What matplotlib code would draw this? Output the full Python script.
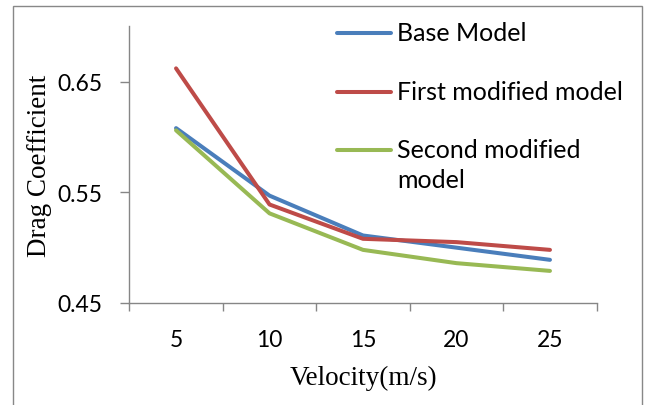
import numpy as np
import matplotlib
matplotlib.use("Agg")
import matplotlib.pyplot as plt
from matplotlib.patches import Rectangle
from matplotlib.lines import Line2D

# data
velocity = ["5", "10", "15", "20", "25"]
base_model = [0.608, 0.547, 0.511, 0.500, 0.489]
first_modified = [0.662, 0.539, 0.508, 0.505, 0.498]
second_modified = [0.606, 0.531, 0.498, 0.486, 0.479]

series = [
    ("Base Model", base_model, "#4A7EBB"),
    ("First modified model", first_modified, "#BE4B48"),
    ("Second modified\nmodel", second_modified, "#98B954"),
]

W, H = 646, 406
fig = plt.figure(figsize=(W / 100, H / 100), dpi=100)
ax = fig.add_axes([129.3 / W, 1 - 304 / H, 467.4 / W, 276.7 / H])

sans = "Lato"
serif = "Liberation Serif"
x = np.arange(len(velocity))
for name, vals, col in series:
    ax.plot(x, vals, color=col, lw=2.9, label=name, solid_capstyle="round")

ax.set_xlim(-0.5, len(velocity) - 0.5)
ax.set_ylim(0.45, 0.70)

# category axis: ticks between the categories, labels at centres
ax.set_xticks(np.arange(-0.5, len(velocity), 1))
ax.set_xticklabels([])
ax.set_xticks(x, minor=True)
ax.set_xticklabels(velocity, minor=True, fontsize=16.5, family=sans)
ax.tick_params(axis="x", which="major", length=6, width=1, color="#868686", direction="out")
ax.tick_params(axis="x", which="minor", length=0, pad=19)

ax.set_yticks([0.45, 0.55, 0.65])
ax.set_yticklabels(["0.45", "0.55", "0.65"], fontsize=16.5, family=sans)
ax.tick_params(axis="y", length=6.5, width=1, color="#868686", direction="out", pad=13)

for s in ["top", "right"]:
    ax.spines[s].set_visible(False)
for s in ["left", "bottom"]:
    ax.spines[s].set_color("#868686")
    ax.spines[s].set_linewidth(1)

ax.set_ylabel("Drag Coefficient", fontsize=19.5, family=serif)
ax.yaxis.set_label_coords(-0.166, 0.5)
ax.set_xlabel("Velocity(m/s)", fontsize=19.5, family=serif)
ax.xaxis.set_label_coords(0.501, -0.27)
ax.xaxis.label.set_va("center")

# legend, handle aligned with the first line of each label (Excel style)
leg_y = [33.5, 92.5, 151]
for (name, vals, col), yy in zip(series, leg_y):
    fy = 1 - yy / H
    fig.add_artist(Line2D([336.7 / W, 390.7 / W], [fy, fy], transform=fig.transFigure,
                          color=col, lw=2.9, solid_capstyle="round"))
    first, *rest = name.split("\n")
    fig.text(397 / W, fy, first, family=sans, fontsize=18, va="center")
    for k, line in enumerate(rest, 1):
        fig.text(397 / W, 1 - (yy + 30 * k) / H, line, family=sans, fontsize=18, va="center")

# outer chart border
fig.patches.append(Rectangle((12.7 / W, -0.1), (641.7 - 12.7) / W, 1.1 - 7.3 / H,
                             transform=fig.transFigure, fill=False,
                             edgecolor="#888888", lw=1))

fig.savefig("out.png", dpi=100)
